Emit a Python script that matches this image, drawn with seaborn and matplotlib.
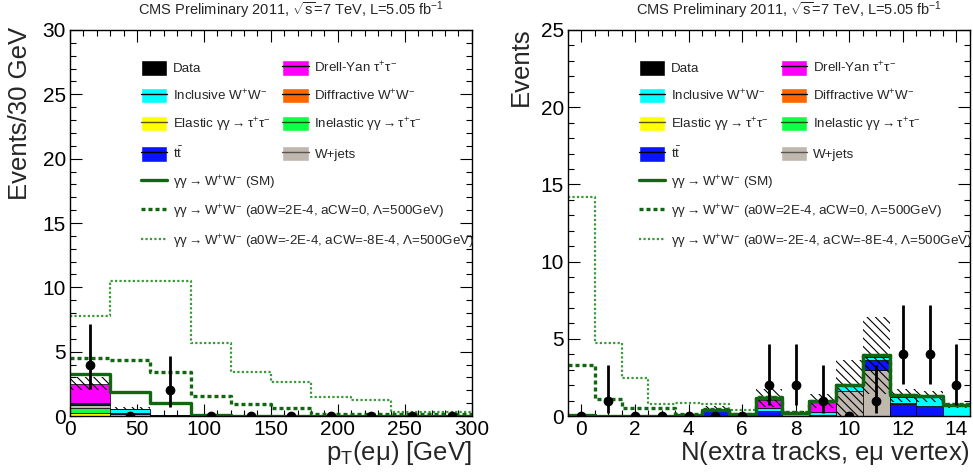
import numpy as np
import pandas as pd
import matplotlib
matplotlib.use("Agg")
from matplotlib import pyplot as plt
from matplotlib.patches import Patch
from matplotlib.lines import Line2D
from matplotlib.ticker import MultipleLocator
import seaborn as sns

# ---------------- data ----------------
components = ["Elastic", "Inelastic", "W+jets", "ttbar", "Diffractive WW", "Inclusive WW", "Drell-Yan"]
comp_colors = ["#ffff00", "#11ff44", "#c0b8ae", "#0a14ff", "#ff6600", "#00ffff", "#ff00ff"]

# left panel: pT(e mu), 30 GeV bins
pt_edges = [0, 30, 60, 90, 120, 150, 180, 210, 240, 270, 300]
pt_centers = [15, 45, 75, 105, 135, 165, 195, 225, 255, 285]
pt_elastic = [0.25, 0.0, 0, 0, 0, 0, 0, 0, 0, 0]
pt_inelastic = [0.40, 0.02, 0, 0, 0, 0, 0, 0, 0, 0]
pt_wjets = [0.18, 0.15, 0, 0, 0, 0, 0, 0, 0, 0]
pt_ttbar = [0.07, 0.05, 0.02, 0, 0, 0, 0, 0, 0, 0]
pt_diffractive = [0.03, 0.01, 0, 0, 0, 0, 0, 0, 0, 0]
pt_inclusive = [0.12, 0.32, 0.04, 0, 0, 0, 0, 0, 0, 0]
pt_drellyan = [1.45, 0.02, 0, 0, 0, 0, 0, 0, 0, 0]
pt_band_lo = [2.0, 0.45, 0.0, 0, 0, 0, 0, 0, 0, 0]
pt_band_hi = [3.0, 0.70, 0.10, 0, 0, 0, 0, 0, 0, 0]
pt_sm = [3.3, 1.9, 1.0, 0.06, 0.04, 0.03, 0.02, 0.02, 0.01, 0.01]
pt_aqgc1 = [4.5, 4.37, 3.44, 1.56, 0.96, 0.6, 0.18, 0.13, 0.13, 0.13]
pt_aqgc2 = [7.76, 10.5, 10.5, 5.65, 3.46, 2.66, 1.51, 1.25, 0.31, 0.31]
pt_data = [4, 0, 2, 0, 0, 0, 0, 0, 0, 0]
pt_data_lo = [2.08, 0, 0.71, 0, 0, 0, 0, 0, 0, 0]
pt_data_hi = [7.16, 0, 4.64, 0, 0, 0, 0, 0, 0, 0]

# right panel: N(extra tracks), unit bins
nt_edges = [-0.5, 0.5, 1.5, 2.5, 3.5, 4.5, 5.5, 6.5, 7.5, 8.5, 9.5, 10.5, 11.5, 12.5, 13.5, 14.5]
nt_centers = [0, 1, 2, 3, 4, 5, 6, 7, 8, 9, 10, 11, 12, 13, 14]
nt_elastic = [0.02, 0, 0, 0, 0, 0, 0, 0, 0, 0, 0, 0, 0, 0, 0]
nt_inelastic = [0.02, 0.01, 0, 0, 0, 0, 0, 0, 0, 0, 0, 0, 0, 0, 0]
nt_wjets = [0, 0, 0, 0, 0, 0, 0, 0, 0, 0, 1.62, 2.95, 0, 0, 0]
nt_ttbar = [0, 0, 0, 0, 0.02, 0.3, 0.05, 0.35, 0, 0.05, 0, 0.65, 0.8, 0.62, 0]
nt_diffractive = [0, 0, 0, 0, 0, 0, 0, 0, 0, 0, 0, 0, 0.05, 0.02, 0]
nt_inclusive = [0, 0, 0, 0, 0.02, 0.05, 0.05, 0.15, 0.2, 0.2, 0.3, 0.2, 0.35, 0.58, 0.67]
nt_drellyan = [0, 0, 0, 0, 0, 0.05, 0, 0.55, 0, 0.65, 0, 0, 0, 0, 0]
nt_band_lo = [0, 0, 0, 0, 0, 0.25, 0, 0.6, 0.1, 0.5, 0.0, 1.4, 0.9, 0.9, 0.55]
nt_band_hi = [0, 0, 0, 0, 0.05, 0.68, 0.15, 1.72, 0.3, 1.44, 3.64, 6.4, 1.72, 1.6, 0.8]
nt_sm = [0.05, 0.03, 0.02, 0.02, 0.05, 0.42, 0.12, 1.18, 0.22, 0.97, 1.98, 3.94, 1.34, 1.29, 0.73]
nt_aqgc1 = [3.3, 1.1, 0.52, 0.52, 0.15, 0.45, 0.15, 1.2, 0.24, 0.99, 2.0, 3.96, 1.36, 1.31, 0.75]
nt_aqgc2 = [14.2, 4.75, 2.46, 0.75, 0.86, 0.8, 0.37, 1.2, 0.24, 0.99, 2.0, 3.96, 1.36, 1.31, 0.75]
nt_data = [0, 1, 0, 0, 0, 0, 0, 2, 2, 1, 0, 1, 4, 4, 2]
nt_data_lo = [0, 0.17, 0, 0, 0, 0, 0, 0.71, 0.71, 0.17, 0, 0.17, 2.08, 2.08, 0.71]
nt_data_hi = [0, 3.3, 0, 0, 0, 0, 0, 4.64, 4.64, 3.3, 0, 3.3, 7.16, 7.16, 4.64]

title = r"CMS Preliminary 2011, $\sqrt{s}$=7 TeV, L=5.05 fb$^{-1}$"

# ---------------- style ----------------
sns.set_theme(style="ticks")
plt.rcParams["font.family"] = ["Liberation Sans", "DejaVu Sans"]
plt.rcParams["mathtext.fontset"] = "custom"
plt.rcParams["mathtext.rm"] = "Liberation Sans"
plt.rcParams["mathtext.it"] = "Liberation Sans"
plt.rcParams["mathtext.bf"] = "Liberation Sans:bold"
plt.rcParams["mathtext.default"] = "rm"
plt.rcParams["hatch.linewidth"] = 0.8
plt.rcParams["hatch.color"] = "black"

SM_GREEN = "#116611"
LIGHT_GREEN = "#3a9a3a"
LEG_FS = 9.6


def draw_panel(ax, edges, centers, stack, band_lo, band_hi, sm, aqgc1, aqgc2,
               data, data_lo, data_hi):
    # stacked backgrounds (seaborn puts the first hue level on top)
    rows = []
    for name, vals in zip(components, stack):
        for c, v in zip(centers, vals):
            rows.append({"x": c, "w": v, "comp": name})
    df = pd.DataFrame(rows)
    sns.histplot(data=df, x="x", weights="w", hue="comp", hue_order=components[::-1],
                 multiple="stack", bins=edges, element="bars",
                 palette=dict(zip(components, comp_colors)), alpha=1,
                 edgecolor="black", linewidth=0.5, legend=False, ax=ax)

    # uncertainty band
    lo = np.array(band_lo)
    hi = np.array(band_hi)
    ax.bar(centers, hi - lo, bottom=lo, width=np.diff(edges), fill=False,
           hatch="\\\\\\\\", linewidth=0, edgecolor="black")

    # signal curves
    sns.histplot(x=centers, weights=aqgc2, bins=edges, element="step", fill=False,
                 color=LIGHT_GREEN, linewidth=1.6, linestyle=(0, (1, 1)), ax=ax)
    sns.histplot(x=centers, weights=aqgc1, bins=edges, element="step", fill=False,
                 color=SM_GREEN, linewidth=2.4, linestyle=(0, (1.2, 0.9)), ax=ax)
    sns.histplot(x=centers, weights=sm, bins=edges, element="step", fill=False,
                 color=SM_GREEN, linewidth=2.4, ax=ax)

    # data
    d = np.array(data, dtype=float)
    yerr = [d - np.array(data_lo), np.array(data_hi) - d]
    yerr[0][d == 0] = 0
    yerr[1][d == 0] = 0
    ax.errorbar(centers, d, yerr=yerr, fmt="o", color="black", ms=6,
                elinewidth=2, capsize=0, zorder=10)

    ax.set_xlim(edges[0], edges[-1])
    ax.text(0.93, 1.022, title, transform=ax.transAxes, ha="right", va="bottom",
            fontsize=10.5)
    ax.tick_params(which="both", direction="in", top=True, right=True,
                   width=0.8, colors="black")
    ax.tick_params(which="major", length=8.5, labelsize=15, pad=3)
    ax.tick_params(which="minor", length=4.3)
    for s in ax.spines.values():
        s.set_color("black")
        s.set_linewidth(1.0)

    # legend
    fill_handles = [
        Patch(facecolor="black"),
        (Patch(facecolor="#00ffff"), Line2D([], [], color="black", lw=1)),
        (Patch(facecolor="#ffff00"), Line2D([], [], color="#555500", lw=1)),
        (Patch(facecolor="#0a14ff"), Line2D([], [], color="black", lw=1)),
        (Patch(facecolor="#ff00ff"), Line2D([], [], color="black", lw=1)),
        (Patch(facecolor="#ff6600"), Line2D([], [], color="black", lw=1)),
        (Patch(facecolor="#11ff44"), Line2D([], [], color="#115511", lw=1)),
        (Patch(facecolor="#c0b8ae"), Line2D([], [], color="#555555", lw=1)),
    ]
    fill_labels = [
        "Data",
        r"Inclusive $W^{+}W^{-}$",
        r"Elastic $\gamma\gamma\rightarrow\tau^{+}\tau^{-}$",
        r"t$\bar{t}$",
        r"Drell-Yan $\tau^{+}\tau^{-}$",
        r"Diffractive $W^{+}W^{-}$",
        r"Inelastic $\gamma\gamma\rightarrow\tau^{+}\tau^{-}$",
        "W+jets",
    ]
    leg1 = ax.legend(fill_handles, fill_labels, ncol=2, loc="upper left",
                     bbox_to_anchor=(0.159, 0.94), frameon=False, borderpad=0,
                     fontsize=LEG_FS, handlelength=2.0, handleheight=1.45,
                     handletextpad=0.4, labelspacing=0.9, columnspacing=0.9)
    ax.add_artist(leg1)
    line_handles = [
        Line2D([], [], color=SM_GREEN, lw=2.4),
        Line2D([], [], color=SM_GREEN, lw=2.4, linestyle=(0, (1.2, 0.9))),
        Line2D([], [], color=LIGHT_GREEN, lw=1.6, linestyle=(0, (1, 1))),
    ]
    line_labels = [
        r"$\gamma\gamma\rightarrow W^{+}W^{-}$ (SM)",
        r"$\gamma\gamma\rightarrow W^{+}W^{-}$ (a0W=2E-4, aCW=0, $\Lambda$=500GeV)",
        r"$\gamma\gamma\rightarrow W^{+}W^{-}$ (a0W=-2E-4, aCW=-8E-4, $\Lambda$=500GeV)",
    ]
    ax.legend(line_handles, line_labels, loc="upper left",
              bbox_to_anchor=(0.159, 0.645), frameon=False, borderpad=0,
              fontsize=LEG_FS, handlelength=2.0, handleheight=1.45,
              handletextpad=0.4, labelspacing=0.85)


fig = plt.figure(figsize=(9.73, 4.76), dpi=100)
ax1 = fig.add_axes([0.0719, 0.126, 0.413, 0.811])
ax2 = fig.add_axes([0.5838, 0.126, 0.413, 0.811])

draw_panel(ax1, pt_edges, pt_centers,
           [pt_elastic, pt_inelastic, pt_wjets, pt_ttbar, pt_diffractive, pt_inclusive, pt_drellyan],
           pt_band_lo, pt_band_hi, pt_sm, pt_aqgc1, pt_aqgc2,
           pt_data, pt_data_lo, pt_data_hi)
draw_panel(ax2, nt_edges, nt_centers,
           [nt_elastic, nt_inelastic, nt_wjets, nt_ttbar, nt_diffractive, nt_inclusive, nt_drellyan],
           nt_band_lo, nt_band_hi, nt_sm, nt_aqgc1, nt_aqgc2,
           nt_data, nt_data_lo, nt_data_hi)

ax1.set_ylim(0, 30)
ax1.xaxis.set_major_locator(MultipleLocator(50))
ax1.xaxis.set_minor_locator(MultipleLocator(10))
ax1.yaxis.set_major_locator(MultipleLocator(5))
ax1.yaxis.set_minor_locator(MultipleLocator(1))
ax1.set_xlabel(r"p$_{T}$(e$\mu$) [GeV]", fontsize=18.5, loc="right")
ax1.set_ylabel("Events/30 GeV", fontsize=18.5, loc="top")
ax1.xaxis.set_label_coords(1.0, -0.06)
ax1.yaxis.set_label_coords(-0.095, 1.008)

ax2.set_ylim(0, 25)
ax2.xaxis.set_major_locator(MultipleLocator(2))
ax2.xaxis.set_minor_locator(MultipleLocator(0.5))
ax2.yaxis.set_major_locator(MultipleLocator(5))
ax2.yaxis.set_minor_locator(MultipleLocator(1))
ax2.set_xlabel(r"N(extra tracks, e$\mu$ vertex)", fontsize=18.5, loc="right")
ax2.set_ylabel("Events", fontsize=18.5, loc="top")
ax2.xaxis.set_label_coords(1.0, -0.06)
ax2.yaxis.set_label_coords(-0.087, 1.008)

fig.savefig("out.png", dpi=100)
